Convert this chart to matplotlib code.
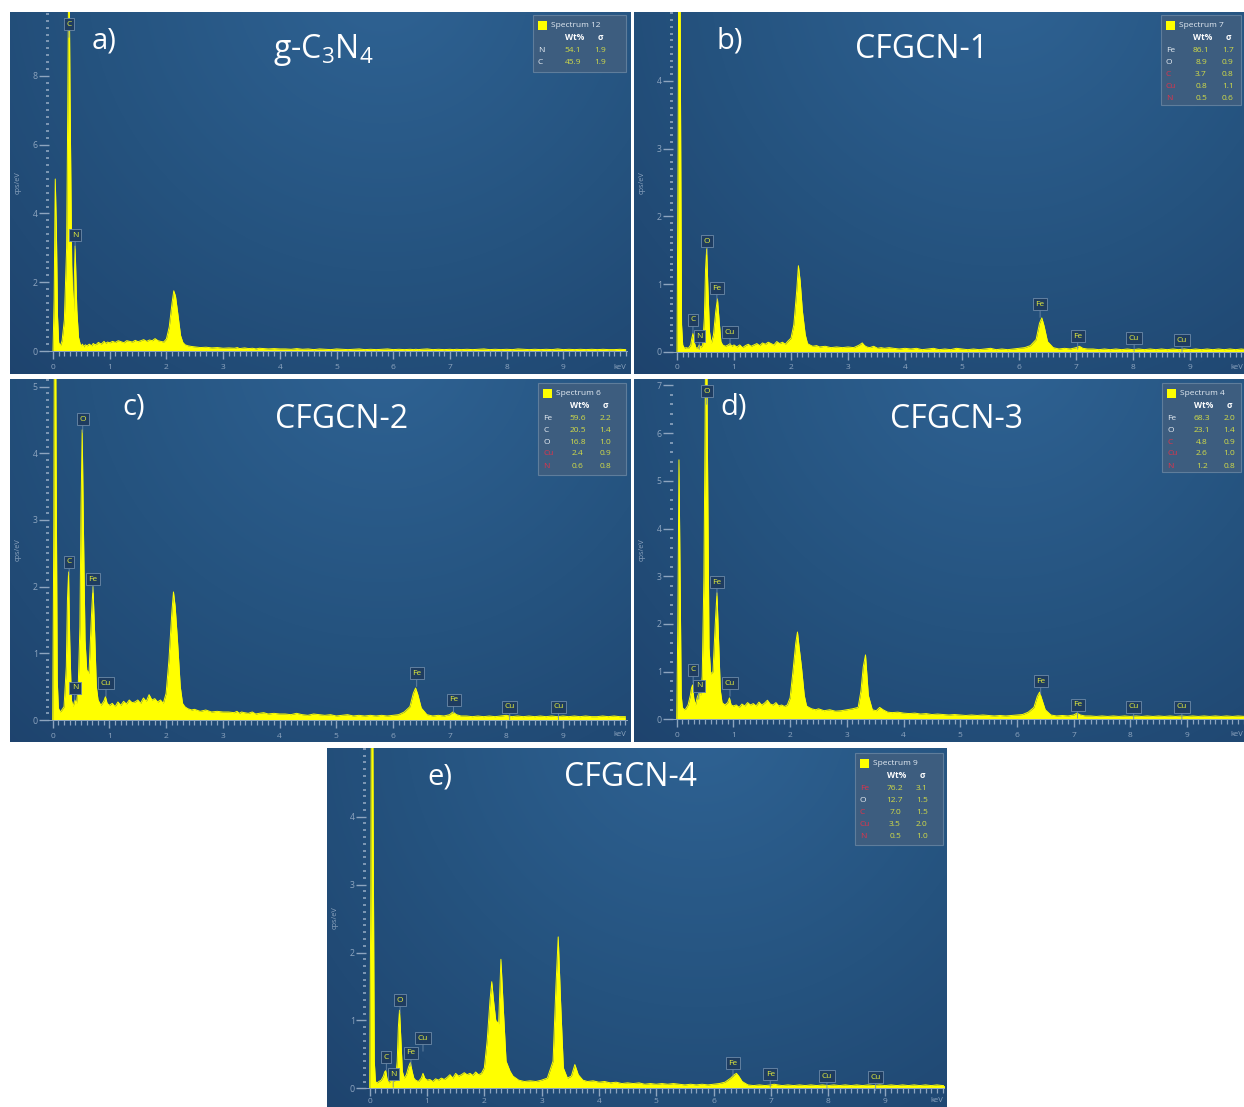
import numpy as np
import matplotlib
matplotlib.use('Agg')
import matplotlib.pyplot as plt
from matplotlib.colors import LinearSegmentedColormap
from matplotlib.patches import Rectangle
from matplotlib.ticker import MultipleLocator

plt.rcParams['font.family'] = ['Open Sans', 'DejaVu Sans']
plt.rcParams['mathtext.fontset'] = 'custom'
plt.rcParams['mathtext.rm'] = 'Open Sans'

W, H = 1244, 1107

# energy grid (keV), shared by all five spectra
energy = [0.00, 0.02, 0.04, 0.06, 0.08, 0.10, 0.13, 0.16, 0.20, 0.24,
          0.26, 0.28, 0.30, 0.33, 0.36, 0.39, 0.42, 0.45, 0.48, 0.50,
          0.52, 0.54, 0.57, 0.60, 0.64, 0.68, 0.71, 0.74, 0.77, 0.80,
          0.85, 0.90, 0.93, 0.96, 1.00,
          1.05, 1.10, 1.15, 1.20, 1.25, 1.30, 1.35, 1.40, 1.45, 1.50,
          1.55, 1.60, 1.65, 1.70, 1.75, 1.80, 1.85, 1.90, 1.95, 2.00,
          2.05, 2.10, 2.13, 2.16, 2.20, 2.25, 2.29, 2.33, 2.38, 2.45,
          2.50, 2.60, 2.70, 2.80, 2.90, 3.00,
          3.10, 3.20, 3.25, 3.29, 3.33, 3.38, 3.45, 3.52, 3.58, 3.64,
          3.72, 3.80, 3.90, 4.00,
          4.1, 4.2, 4.3, 4.4, 4.5, 4.6, 4.7, 4.8, 4.9, 5.0,
          5.1, 5.2, 5.3, 5.4, 5.5, 5.6, 5.7, 5.8, 5.9, 6.0,
          6.1, 6.2,
          6.30, 6.36, 6.40, 6.44, 6.50, 6.60, 6.70, 6.80, 6.90, 7.00,
          7.06, 7.12, 7.20,
          7.3, 7.4, 7.5, 7.6, 7.7, 7.8, 7.9, 8.0, 8.1, 8.2,
          8.3, 8.4, 8.5, 8.6, 8.7, 8.8, 8.9, 9.0, 9.1, 9.2,
          9.3, 9.4, 9.5, 9.6, 9.7, 9.8, 9.9, 10.0, 10.1]

# cps/eV
cps_a = [0.0, 1.5, 5.0, 3.5, 1.0, 0.25, 0.15, 0.3, 0.9, 3.0,
         7.0, 12.0, 7.5, 2.5, 1.0, 3.05, 1.2, 0.4, 0.2, 0.15,
         0.2, 0.12, 0.18, 0.15, 0.2, 0.15, 0.22, 0.18, 0.2, 0.25,
         0.2, 0.28, 0.22, 0.26, 0.24,
         0.28, 0.25, 0.3, 0.27, 0.24, 0.3, 0.28, 0.26, 0.31, 0.27,
         0.3, 0.33, 0.28, 0.32, 0.3, 0.36, 0.3, 0.28, 0.26, 0.35,
         0.7, 1.4, 1.75, 1.6, 1.1, 0.45, 0.25, 0.18, 0.15, 0.13,
         0.12, 0.1, 0.11, 0.09, 0.1, 0.08,
         0.09, 0.08, 0.1, 0.07, 0.08, 0.09, 0.07, 0.08, 0.06, 0.08,
         0.07, 0.06, 0.07, 0.06,
         0.06, 0.05, 0.07, 0.05, 0.06, 0.04, 0.06, 0.05, 0.04, 0.06,
         0.05, 0.04, 0.05, 0.06, 0.04, 0.05, 0.04, 0.05, 0.06, 0.04,
         0.05, 0.04,
         0.05, 0.04, 0.05, 0.04, 0.05, 0.06, 0.04, 0.05, 0.04, 0.05,
         0.04, 0.05, 0.04,
         0.05, 0.04, 0.05, 0.06, 0.04, 0.05, 0.04, 0.05, 0.04, 0.06,
         0.05, 0.04, 0.05, 0.04, 0.05, 0.04, 0.06, 0.04, 0.05, 0.04,
         0.05, 0.04, 0.05, 0.04, 0.05, 0.04, 0.04, 0.05, 0.04]

cps_b = [0.0, 3.0, 9.0, 4.0, 0.4, 0.1, 0.05, 0.06, 0.05, 0.1,
         0.2, 0.27, 0.15, 0.06, 0.05, 0.1, 0.06, 0.1, 0.5, 1.2,
         1.52, 1.0, 0.3, 0.12, 0.25, 0.6, 0.78, 0.45, 0.15, 0.1,
         0.08, 0.1, 0.12, 0.08, 0.1,
         0.07, 0.1, 0.06, 0.09, 0.11, 0.08, 0.1, 0.12, 0.09, 0.13,
         0.11, 0.14, 0.12, 0.1, 0.15, 0.12, 0.14, 0.11, 0.16, 0.2,
         0.4, 0.9, 1.27, 1.05, 0.6, 0.25, 0.12, 0.1, 0.08, 0.09,
         0.07, 0.08, 0.06, 0.07, 0.06, 0.07,
         0.06, 0.1, 0.13, 0.09, 0.07, 0.06, 0.08, 0.05, 0.06, 0.05,
         0.06, 0.05, 0.04, 0.05,
         0.04, 0.05, 0.03, 0.04, 0.05, 0.03, 0.04, 0.03, 0.05, 0.04,
         0.03, 0.04, 0.03, 0.04, 0.05, 0.03, 0.04, 0.03, 0.04, 0.05,
         0.06, 0.09,
         0.18, 0.42, 0.5, 0.38, 0.15, 0.06, 0.04, 0.05, 0.04, 0.06,
         0.08, 0.05, 0.04,
         0.04, 0.03, 0.04, 0.03, 0.04, 0.03, 0.04, 0.03, 0.04, 0.03,
         0.04, 0.03, 0.04, 0.03, 0.04, 0.03, 0.04, 0.03, 0.04, 0.03,
         0.04, 0.03, 0.04, 0.03, 0.04, 0.03, 0.04, 0.03, 0.03]

cps_c = [0.0, 3.0, 9.0, 4.0, 0.6, 0.18, 0.12, 0.15, 0.2, 0.8,
         1.8, 2.22, 1.2, 0.3, 0.2, 0.3, 0.25, 0.5, 1.4, 3.2,
         4.35, 3.0, 1.2, 0.75, 0.7, 1.5, 2.0, 1.3, 0.5, 0.3,
         0.22, 0.28, 0.35, 0.25, 0.22,
         0.25, 0.2, 0.27, 0.22, 0.28, 0.24, 0.3, 0.26, 0.27, 0.3,
         0.25, 0.33, 0.28, 0.38, 0.3, 0.32, 0.27, 0.3, 0.25, 0.4,
         0.9, 1.6, 1.92, 1.7, 1.2, 0.5, 0.25, 0.2, 0.17, 0.15,
         0.16, 0.13, 0.15, 0.12, 0.13, 0.12,
         0.12, 0.11, 0.13, 0.1, 0.12, 0.11, 0.1, 0.12, 0.09, 0.1,
         0.11, 0.09, 0.1, 0.09,
         0.09, 0.08, 0.1, 0.08, 0.07, 0.09, 0.08, 0.07, 0.08, 0.06,
         0.07, 0.08, 0.06, 0.07, 0.06, 0.07, 0.06, 0.07, 0.06, 0.07,
         0.08, 0.12,
         0.2, 0.4, 0.48, 0.38, 0.18, 0.08, 0.06, 0.07, 0.06, 0.08,
         0.12, 0.08, 0.06,
         0.06, 0.05, 0.06, 0.05, 0.06, 0.05, 0.06, 0.07, 0.05, 0.06,
         0.05, 0.06, 0.05, 0.06, 0.05, 0.06, 0.05, 0.06, 0.05, 0.06,
         0.05, 0.06, 0.05, 0.05, 0.06, 0.05, 0.06, 0.05, 0.05]

cps_d = [0.0, 2.0, 5.44, 3.0, 0.5, 0.25, 0.2, 0.22, 0.3, 0.5,
         0.65, 0.72, 0.45, 0.3, 0.45, 0.55, 0.5, 0.9, 3.0, 6.0,
         10.0, 6.0, 1.5, 0.95, 1.0, 2.0, 2.65, 1.6, 0.6, 0.35,
         0.3, 0.35, 0.45, 0.3, 0.28,
         0.3, 0.25, 0.32, 0.28, 0.35, 0.3, 0.33, 0.28, 0.36, 0.3,
         0.34, 0.4, 0.32, 0.3, 0.35, 0.28, 0.3, 0.27, 0.3, 0.45,
         1.0, 1.6, 1.83, 1.5, 1.1, 0.5, 0.28, 0.25, 0.22, 0.2,
         0.22, 0.18, 0.2, 0.17, 0.18, 0.2,
         0.22, 0.25, 0.6, 1.1, 1.35, 0.5, 0.2, 0.18, 0.25, 0.2,
         0.15, 0.14, 0.15, 0.13,
         0.12, 0.13, 0.11, 0.12, 0.1, 0.11, 0.1, 0.09, 0.1, 0.09,
         0.08, 0.09, 0.08, 0.09, 0.08, 0.07, 0.08, 0.07, 0.08, 0.09,
         0.1, 0.15,
         0.25, 0.48, 0.57, 0.42, 0.2, 0.09, 0.07, 0.08, 0.07, 0.09,
         0.13, 0.09, 0.07,
         0.07, 0.06, 0.07, 0.06, 0.07, 0.06, 0.07, 0.06, 0.07, 0.06,
         0.07, 0.06, 0.07, 0.06, 0.07, 0.06, 0.07, 0.06, 0.07, 0.06,
         0.07, 0.06, 0.07, 0.06, 0.07, 0.06, 0.07, 0.06, 0.06]

cps_e = [0.0, 3.0, 9.0, 4.0, 0.4, 0.1, 0.08, 0.1, 0.12, 0.18,
         0.24, 0.26, 0.15, 0.08, 0.1, 0.15, 0.1, 0.12, 0.4, 0.9,
         1.15, 0.8, 0.25, 0.15, 0.2, 0.32, 0.38, 0.25, 0.15, 0.12,
         0.1, 0.15, 0.22, 0.15, 0.12,
         0.13, 0.1, 0.14, 0.12, 0.15, 0.13, 0.16, 0.2, 0.15, 0.22,
         0.18, 0.2, 0.23, 0.2, 0.22, 0.19, 0.24, 0.2, 0.22, 0.3,
         0.7, 1.3, 1.57, 1.3, 1.0, 0.95, 1.9, 1.2, 0.4, 0.25,
         0.18, 0.12, 0.1, 0.11, 0.1, 0.12,
         0.15, 0.4, 1.5, 2.23, 1.3, 0.3, 0.15, 0.18, 0.35, 0.2,
         0.12, 0.1, 0.11, 0.09,
         0.1, 0.08, 0.09, 0.07, 0.08, 0.07, 0.08, 0.06, 0.07, 0.06,
         0.07, 0.06, 0.07, 0.06, 0.05, 0.06, 0.05, 0.06, 0.05, 0.06,
         0.07, 0.09,
         0.15, 0.2, 0.22, 0.18, 0.1, 0.05, 0.04, 0.05, 0.04, 0.05,
         0.06, 0.05, 0.04,
         0.05, 0.04, 0.05, 0.04, 0.05, 0.04, 0.05, 0.04, 0.05, 0.04,
         0.05, 0.04, 0.05, 0.04, 0.05, 0.04, 0.05, 0.04, 0.05, 0.04,
         0.05, 0.04, 0.05, 0.04, 0.05, 0.04, 0.05, 0.04, 0.04]

# peak markers: element, energy (keV), marker height (cps/eV)
pk_el_a = ['C', 'N']
pk_x_a = [0.28, 0.39]
pk_y_a = [9.5, 3.37]
pk_el_b = ['C', 'N', 'O', 'Fe', 'Cu', 'Fe', 'Fe', 'Cu', 'Cu']
pk_x_b = [0.28, 0.39, 0.53, 0.70, 0.93, 6.37, 7.03, 8.02, 8.86]
pk_y_b = [0.47, 0.23, 1.63, 0.94, 0.29, 0.70, 0.23, 0.20, 0.17]
pk_el_c = ['C', 'N', 'O', 'Fe', 'Cu', 'Fe', 'Fe', 'Cu', 'Cu']
pk_x_c = [0.29, 0.39, 0.53, 0.71, 0.94, 6.42, 7.07, 8.06, 8.92]
pk_y_c = [2.37, 0.48, 4.51, 2.11, 0.55, 0.70, 0.30, 0.20, 0.20]
pk_el_d = ['C', 'N', 'O', 'Fe', 'Cu', 'Fe', 'Fe', 'Cu', 'Cu']
pk_x_d = [0.29, 0.39, 0.53, 0.71, 0.94, 6.42, 7.07, 8.06, 8.91]
pk_y_d = [1.04, 0.70, 6.88, 2.87, 0.76, 0.80, 0.30, 0.26, 0.26]
pk_el_e = ['C', 'N', 'O', 'Fe', 'Cu', 'Fe', 'Fe', 'Cu', 'Cu']
pk_x_e = [0.29, 0.41, 0.53, 0.72, 0.93, 6.34, 6.99, 7.98, 8.83]
pk_y_e = [0.46, 0.21, 1.30, 0.52, 0.74, 0.37, 0.21, 0.18, 0.16]

# quantification tables
spec_names = ['Spectrum 12', 'Spectrum 7', 'Spectrum 6', 'Spectrum 4', 'Spectrum 9']
tab_el = [['N', 'C'],
          ['Fe', 'O', 'C', 'Cu', 'N'],
          ['Fe', 'C', 'O', 'Cu', 'N'],
          ['Fe', 'O', 'C', 'Cu', 'N'],
          ['Fe', 'O', 'C', 'Cu', 'N']]
tab_wt = [['54.1', '45.9'],
          ['86.1', '8.9', '3.7', '0.8', '0.5'],
          ['59.6', '20.5', '16.8', '2.4', '0.6'],
          ['68.3', '23.1', '4.8', '2.6', '1.2'],
          ['76.2', '12.7', '7.0', '3.5', '0.5']]
tab_sig = [['1.9', '1.9'],
           ['1.7', '0.9', '0.8', '1.1', '0.6'],
           ['2.2', '1.4', '1.0', '0.9', '0.8'],
           ['2.0', '1.4', '0.9', '1.0', '0.8'],
           ['3.1', '1.5', '1.5', '2.0', '1.0']]
tab_red = [[0, 0],
           [0, 0, 1, 1, 1],
           [0, 0, 0, 1, 1],
           [0, 0, 1, 1, 1],
           [1, 0, 1, 1, 1]]

letters = ['a)', 'b)', 'c)', 'd)', 'e)']
names = [r'g-C$_\mathregular{3}$N$_\mathregular{4}$', 'CFGCN-1', 'CFGCN-2', 'CFGCN-3', 'CFGCN-4']

# layout in pixels
panels = [
    dict(rect=(10, 12, 630, 374), ox=53, oy=351, kx=56.7, ky=34.4, L=49, R=627, ystep=2, yminor=0.2,
         let=(104, 41), name=(323, 50), tab=(533, 15, 626, 72), cps=(18, 183), kev=(620, 367, 'center'),
         pad=3),
    dict(rect=(634, 12, 1244, 374), ox=677, oy=351.7, kx=57, ky=67.7, L=673, R=1244, ystep=1, yminor=0.1,
         let=(730, 41), name=(922, 50), tab=(1161, 15, 1241, 105), cps=(642, 183), kev=(1243, 367, 'right'),
         pad=3),
    dict(rect=(10, 379, 630, 742), ox=52.7, oy=720, kx=56.7, ky=66.7, L=49, R=627, ystep=1, yminor=0.1,
         let=(134, 407), name=(342, 419), tab=(538, 383, 626, 475), cps=(18, 550), kev=(620, 734, 'center'),
         pad=3),
    dict(rect=(634, 379, 1244, 742), ox=676.7, oy=719.3, kx=56.7, ky=47.7, L=673, R=1244, ystep=1, yminor=0.2,
         let=(734, 407), name=(956, 419), tab=(1162, 383, 1241, 472), cps=(642, 550), kev=(1243, 734, 'right'),
         pad=3),
    dict(rect=(327, 748, 947, 1107), ox=369.7, oy=1088.3, kx=57.3, ky=67.9, L=366, R=944, ystep=1, yminor=0.1,
         let=(440, 777), name=(630, 777), tab=(855, 753, 943, 845), cps=(335, 918), kev=(937, 1100, 'center'),
         pad=1),
]
spectra = [cps_a, cps_b, cps_c, cps_d, cps_e]
peaks = [(pk_el_a, pk_x_a, pk_y_a), (pk_el_b, pk_x_b, pk_y_b), (pk_el_c, pk_x_c, pk_y_c),
         (pk_el_d, pk_x_d, pk_y_d), (pk_el_e, pk_x_e, pk_y_e)]

tick_c = '#8ea5bf'
box_edge = '#6d8aa8'
bg_cmap = LinearSegmentedColormap.from_list('bg', ['#2f6394', '#25537f', '#1d416b'])

fig = plt.figure(figsize=(W / 100, H / 100), dpi=100)
fig.patch.set_facecolor('white')


def fx(x):
    return x / W


def fy(y):
    return 1 - y / H


for i, p in enumerate(panels):
    x0, y0, x1, y1 = p['rect']
    # background with soft radial light near the top
    bg = fig.add_axes([fx(x0), fy(y1), (x1 - x0) / W, (y1 - y0) / H])
    w, h = x1 - x0, y1 - y0
    yy, xx = np.mgrid[0:h, 0:w]
    d = np.hypot(xx - 0.6 * w, yy + 0.1 * h) / (0.95 * w)
    bg.imshow(np.clip(d, 0, 1), cmap=bg_cmap, vmin=0, vmax=1, extent=[0, 1, 0, 1],
              aspect='auto', interpolation='bilinear')
    bg.set_axis_off()

    ox, oy, kx, ky, L, R = p['ox'], p['oy'], p['kx'], p['ky'], p['L'], p['R']
    ax = fig.add_axes([fx(L), fy(oy), (R - L) / W, (oy - y0) / H])
    ax.patch.set_alpha(0)
    ymax = (oy - y0) / ky
    ax.set_xlim((L - ox) / kx, (R - ox) / kx)
    ax.set_ylim(0, ymax)

    ax.fill_between(energy, spectra[i], color='#ffff00', lw=0)
    ax.plot(energy, spectra[i], color='#ffff00', lw=0.7)

    ax.set_xticks(range(10))
    ax.xaxis.set_minor_locator(MultipleLocator(0.1))
    ax.set_yticks([v for v in range(0, int(ymax) + 1, p['ystep']) if v <= ymax - 0.05])
    ax.yaxis.set_minor_locator(MultipleLocator(p['yminor']))
    ax.tick_params(axis='x', which='major', direction='out', length=6, width=1.0, color=tick_c,
                   labelcolor=tick_c, labelsize=6, pad=p['pad'])
    ax.tick_params(axis='x', which='minor', direction='out', length=3.5, width=0.9, color=tick_c)
    ax.tick_params(axis='y', which='major', direction='out', length=7, width=1.0, color=tick_c,
                   labelcolor=tick_c, labelsize=6.3, pad=1)
    ax.tick_params(axis='y', which='minor', direction='out', length=2.5, width=1.2, color=tick_c)
    for s in ['top', 'right', 'left']:
        ax.spines[s].set_visible(False)
    ax.spines['bottom'].set_color(tick_c)
    ax.spines['bottom'].set_linewidth(0.7)

    # peak identification markers
    for el, px, py in zip(*peaks[i]):
        ax.annotate('', xy=(px, py), xytext=(0, -9.5), textcoords='offset points',
                    arrowprops=dict(arrowstyle='-', color=box_edge, lw=0.6, shrinkA=0, shrinkB=0),
                    annotation_clip=False, zorder=5)
        ax.text(px, py, el, ha='center', va='center', fontsize=6, color='#e6ee3c', zorder=6,
                bbox=dict(boxstyle='square,pad=0.3', fc='#1e3c60', ec=box_edge, lw=0.6))

    # axis captions
    fig.text(fx(p['cps'][0]), fy(p['cps'][1]), 'cps/eV', rotation=90, ha='center', va='center',
             fontsize=5.3, color=tick_c)
    fig.text(fx(p['kev'][0]), fy(p['kev'][1]), 'keV', ha=p['kev'][2], va='center',
             fontsize=5.5, color=tick_c)

    # panel letter and sample name
    fig.text(fx(p['let'][0]), fy(p['let'][1]), letters[i], ha='center', va='center',
             fontsize=21, color='white')
    fig.text(fx(p['name'][0]), fy(p['name'][1]), names[i], ha='center', va='center',
             fontsize=23, color='white')

    # quantification table
    tx0, ty0, tx1, ty1 = p['tab']
    fig.add_artist(Rectangle((fx(tx0), fy(ty1)), (tx1 - tx0) / W, (ty1 - ty0) / H,
                             transform=fig.transFigure, fc='#3d5d7f', ec='#5f7d9b', lw=0.8, zorder=5))
    fig.add_artist(Rectangle((fx(tx0 + 5), fy(ty0 + 15)), 9 / W, 9 / H, transform=fig.transFigure,
                             fc='#ffff00', ec='none', zorder=6))
    fig.text(fx(tx0 + 18), fy(ty0 + 10.5), spec_names[i], ha='left', va='center', fontsize=6,
             color='#e3ebf3', zorder=7)
    fig.text(fx(tx0 + 42), fy(ty0 + 23), 'Wt%', ha='center', va='center', fontsize=6,
             color='white', weight='bold', zorder=7)
    fig.text(fx(tx0 + 67), fy(ty0 + 23), 'σ', ha='center', va='center', fontsize=6,
             color='white', weight='bold', zorder=7)
    for r, (el, wt, sg, red) in enumerate(zip(tab_el[i], tab_wt[i], tab_sig[i], tab_red[i])):
        yy_r = ty0 + 35 + 12 * r
        fig.text(fx(tx0 + 5), fy(yy_r), el, ha='left', va='center', fontsize=6,
                 color='#e0334a' if red else '#e8eef4', zorder=7)
        fig.text(fx(tx0 + 40), fy(yy_r), wt, ha='center', va='center', fontsize=6,
                 color='#d2dc48', zorder=7)
        fig.text(fx(tx0 + 67), fy(yy_r), sg, ha='center', va='center', fontsize=6,
                 color='#d2dc48', zorder=7)

fig.savefig('out.png', dpi=100, facecolor='white')
